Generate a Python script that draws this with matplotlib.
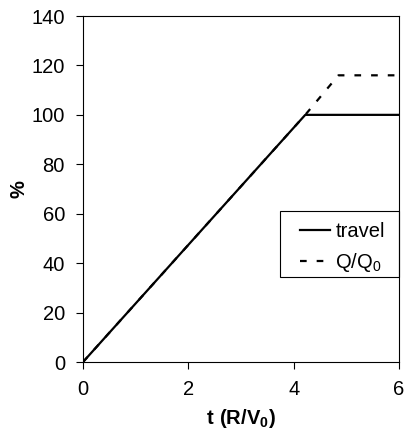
import matplotlib
matplotlib.use("Agg")
import matplotlib.pyplot as plt
from matplotlib.patches import Rectangle

# data
t_travel = [0, 4.22, 6]
travel = [0, 100, 100]
t_q = [0, 4.22, 4.85, 6]
q = [0, 100, 116, 116]

x_ticks = [0, 2, 4, 6]
y_ticks = [0, 20, 40, 60, 80, 100, 120, 140]

plt.rcParams["font.family"] = ["Liberation Sans", "DejaVu Sans"]
plt.rcParams["mathtext.fontset"] = "custom"
plt.rcParams["mathtext.rm"] = "Liberation Sans"
plt.rcParams["mathtext.bf"] = "Liberation Sans:bold"

fig = plt.figure(figsize=(4.04, 4.29), dpi=100)
ax = fig.add_axes([83 / 404, 1 - 362 / 429, 316 / 404, 346 / 429])

ax.plot(t_q, q, color="black", lw=1.6, ls=(0, (3, 4.5)), label="Q/Q$_0$")
ax.plot(t_travel, travel, color="black", lw=1.6, label="travel")

ax.set_xlim(0, 6)
ax.set_ylim(0, 140)
ax.set_xticks(x_ticks)
ax.set_yticks(y_ticks)
ax.tick_params(labelsize=14.5, length=5, width=0.8, direction="out", pad=8)
for s in ax.spines.values():
    s.set_linewidth(0.8)

ax.set_xlabel(r"$\mathbf{t\ (R/V_0)}$", fontsize=14.5, labelpad=6)
ax.set_ylabel("%", fontsize=14.5, fontweight="bold", labelpad=2)

# legend box (frame drawn separately so it runs into the right spine)
ax.add_patch(Rectangle((0.623, 0.246), 0.377, 0.19, transform=ax.transAxes,
                       fill=False, edgecolor="black", lw=0.8, clip_on=False))
h, l = ax.get_legend_handles_labels()
ax.legend(h[::-1], l[::-1], loc="upper left", bbox_to_anchor=(0.687, 0.405),
          borderaxespad=0, borderpad=0, frameon=False, fontsize=14.5,
          handlelength=1.5, handletextpad=0.25, labelspacing=0.5)

fig.savefig("out.png", dpi=100)
